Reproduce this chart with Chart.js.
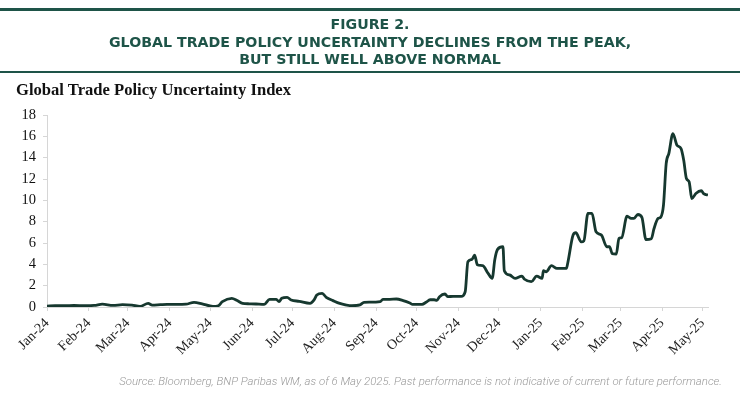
<!DOCTYPE html>
<html>
<head>
<meta charset="utf-8">
<script src="https://cdn.jsdelivr.net/npm/chart.js@4.4.1/dist/chart.umd.min.js"></script>
<style>
  html, body { margin: 0; padding: 0; background: #ffffff; }
  #wrap { position: relative; width: 740px; height: 399px; overflow: hidden; }
  #chart { position: absolute; left: 0; top: 0; }
  .rule { position: absolute; left: 0; width: 740px; background: #1e5448; }
  .ttl { position: absolute; left: 0; width: 740px; text-align: center; color: #1e5448;
         font-family: "DejaVu Sans", sans-serif; font-weight: 700; font-size: 14.2px; line-height: 18px; white-space: nowrap; }
  #sub { position: absolute; left: 16px; top: 79px; font-family: "Liberation Serif", serif; font-weight: 700;
         font-size: 16.6px; line-height: 22px; color: #111; white-space: nowrap; }
  #src { position: absolute; right: 18px; top: 373px; font-family: Roboto, sans-serif; font-style: italic; font-weight: 300;
         font-size: 11.45px; line-height: 16px; color: #9a9a9a; white-space: nowrap; }
</style>
</head>
<body>
<div id="wrap">
  <canvas id="chart" width="740" height="399"></canvas>
  <div class="rule" style="top:8px;height:3px;"></div>
  <div class="ttl" style="top:15px;">FIGURE 2.</div>
  <div class="ttl" style="top:33px;">GLOBAL TRADE POLICY UNCERTAINTY DECLINES FROM THE PEAK,</div>
  <div class="ttl" style="top:50px;">BUT STILL WELL ABOVE NORMAL</div>
  <div class="rule" style="top:71px;height:2px;"></div>
  <div id="sub">Global Trade Policy Uncertainty Index</div>
  <div id="src">Source: Bloomberg, BNP Paribas WM, as of 6 May 2025. Past performance is not indicative of current or future performance.</div>
</div>
<script>
// ---- data ----
const dates = [
  "2024-01-01","2024-01-07","2024-01-14","2024-01-21","2024-01-29","2024-02-05","2024-02-11","2024-02-19","2024-02-26",
  "2024-03-04","2024-03-10","2024-03-16","2024-03-19","2024-03-25","2024-03-30","2024-04-06","2024-04-13","2024-04-19",
  "2024-04-25","2024-05-03","2024-05-07","2024-05-10","2024-05-17","2024-05-21","2024-05-25","2024-05-30","2024-06-04",
  "2024-06-10","2024-06-14","2024-06-19","2024-06-21","2024-06-23","2024-06-27","2024-06-30","2024-07-06","2024-07-14",
  "2024-07-17","2024-07-19","2024-07-23","2024-07-26","2024-07-31","2024-08-05","2024-08-14","2024-08-20","2024-08-23",
  "2024-08-27","2024-09-04","2024-09-06","2024-09-11","2024-09-16","2024-09-21","2024-09-26","2024-09-28","2024-10-05",
  "2024-10-08","2024-10-11","2024-10-14","2024-10-16","2024-10-18","2024-10-22","2024-10-24","2024-10-28","2024-11-03",
  "2024-11-06","2024-11-08","2024-11-11","2024-11-13","2024-11-15","2024-11-19","2024-11-23","2024-11-26","2024-11-28",
  "2024-11-30","2024-12-04","2024-12-05","2024-12-09","2024-12-13","2024-12-18","2024-12-20","2024-12-25","2024-12-29",
  "2025-01-02","2025-01-03","2025-01-05","2025-01-09","2025-01-13","2025-01-20","2025-01-21","2025-01-25","2025-01-27",
  "2025-01-31","2025-02-02","2025-02-05","2025-02-08","2025-02-11","2025-02-15","2025-02-19","2025-02-21","2025-02-23",
  "2025-02-26","2025-02-28","2025-03-02","2025-03-06","2025-03-09","2025-03-11","2025-03-14","2025-03-17","2025-03-20",
  "2025-03-24","2025-03-26","2025-03-29","2025-03-31","2025-04-02","2025-04-04","2025-04-06","2025-04-09","2025-04-12",
  "2025-04-15","2025-04-17","2025-04-19","2025-04-21","2025-04-23","2025-04-26","2025-04-30","2025-05-02","2025-05-05"
];
const tpuIndex = [
  0.08,0.12,0.12,0.14,0.13,0.15,0.27,0.15,0.22,
  0.17,0.06,0.34,0.18,0.22,0.25,0.24,0.26,0.44,
  0.30,0.06,0.12,0.50,0.81,0.60,0.34,0.30,0.28,
  0.25,0.72,0.72,0.50,0.81,0.90,0.66,0.53,0.34,
  0.66,1.12,1.28,0.90,0.60,0.34,0.12,0.20,0.44,
  0.45,0.50,0.72,0.72,0.75,0.60,0.37,0.25,0.25,
  0.44,0.68,0.68,0.62,0.97,1.22,0.97,1.00,1.00,
  1.43,4.24,4.46,4.87,3.97,3.87,3.15,2.68,4.48,
  5.40,5.65,3.40,3.00,2.68,2.90,2.60,2.37,2.90,
  2.68,3.40,3.30,3.87,3.62,3.62,4.10,6.74,6.96,
  6.10,6.20,8.77,8.77,7.05,6.74,5.65,5.65,5.00,
  4.96,6.43,6.50,8.52,8.30,8.30,8.67,8.40,6.33,
  6.40,7.36,8.30,8.43,9.55,13.45,14.40,16.26,15.17,
  14.85,13.76,12.05,11.74,10.17,10.64,10.90,10.60,10.50
];
const monthStarts = ["2024-01-01","2024-02-01","2024-03-01","2024-04-01","2024-05-01","2024-06-01","2024-07-01","2024-08-01",
  "2024-09-01","2024-10-01","2024-11-01","2024-12-01","2025-01-01","2025-02-01","2025-03-01","2025-04-01","2025-05-01"];
const monthLabels = ["Jan-24","Feb-24","Mar-24","Apr-24","May-24","Jun-24","Jul-24","Aug-24",
  "Sep-24","Oct-24","Nov-24","Dec-24","Jan-25","Feb-25","Mar-25","Apr-25","May-25"];
const yTicks = [0, 2, 4, 6, 8, 10, 12, 14, 16, 18];

// ---- helpers ----
const DAY = 86400000;
const base = Date.UTC(2024, 0, 1);
const toDay = s => { const p = s.split("-").map(Number); return (Date.UTC(p[0], p[1]-1, p[2]) - base) / DAY; };
const points = dates.map((d, i) => ({ x: toDay(d), y: tpuIndex[i] }));
const monthVals = monthStarts.map(toDay);
const labelFor = {};
monthVals.forEach((v, i) => labelFor[v] = monthLabels[i]);

const axisGray = "#d6d6d6";
new Chart(document.getElementById("chart"), {
  type: "line",
  data: { datasets: [{
    data: points,
    borderColor: "#16382f",
    borderWidth: 2.8,
    pointRadius: 0,
    tension: 0.2,
    cubicInterpolationMode: "monotone",
    fill: false
  }]},
  options: {
    responsive: false,
    animation: false,
    layout: { padding: { left: 0, right: 32, top: 115, bottom: 0 } },
    plugins: { legend: { display: false }, tooltip: { enabled: false }, title: { display: false } },
    scales: {
      x: {
        type: "linear",
        min: monthVals[0],
        max: points[points.length - 1].x,
        afterBuildTicks: s => { s.ticks = monthVals.map(v => ({ value: v })); },
        afterFit: s => { s.height = 92; },
        grid: { display: true, drawOnChartArea: false, drawTicks: true, tickLength: 4, color: axisGray },
        border: { display: true, color: axisGray, width: 1 },
        ticks: {
          autoSkip: false, minRotation: 45, maxRotation: 45, padding: 4,
          color: "#222", font: { family: "Liberation Serif", size: 14 },
          callback: v => labelFor[v] || ""
        }
      },
      y: {
        min: 0, max: 18,
        afterBuildTicks: s => { s.ticks = yTicks.map(v => ({ value: v })); },
        afterFit: s => { s.width = 47; },
        grid: { display: true, drawOnChartArea: false, drawTicks: true, tickLength: 4, color: axisGray },
        border: { display: true, color: axisGray, width: 1 },
        ticks: { padding: 7, color: "#111", font: { family: "Liberation Serif", size: 14.5 } }
      }
    }
  }
});
</script>
</body>
</html>
